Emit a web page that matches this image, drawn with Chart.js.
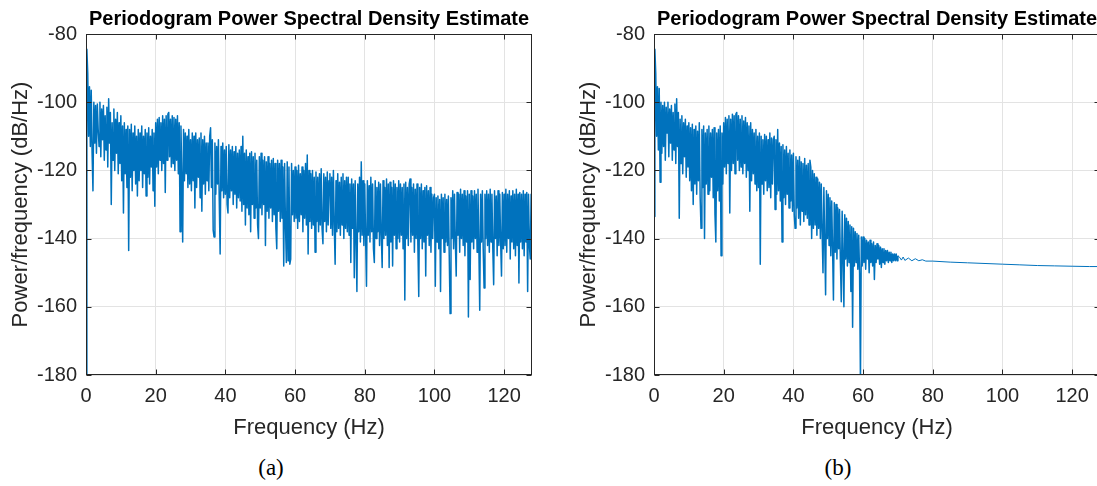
<!DOCTYPE html>
<html lang="en">
<head>
<meta charset="UTF-8">
<title>Periodogram Power Spectral Density Estimate</title>
<script src="https://cdn.jsdelivr.net/npm/chart.js"></script>
<style>
  html, body { margin: 0; padding: 0; background: #fff; overflow: hidden; }
  body { width: 1097px; height: 486px; position: relative; }
  .panel { position: absolute; top: 0; width: 548px; height: 450px; }
  .caption { position: absolute; top: 455px; width: 60px; text-align: center;
             font-family: "Liberation Serif", serif; font-size: 23px; color: #000; }
</style>
</head>
<body>
<div class="panel" style="left:0"><canvas id="psdA" width="548" height="450"></canvas></div>
<div class="panel" style="left:568px"><canvas id="psdB" width="548" height="450"></canvas></div>
<div class="caption" style="left:241px">(a)</div>
<div class="caption" style="left:808px">(b)</div>

<script>
// frequency bins are 0.25 Hz apart
const binHz = 0.25;
const xTicks = [0, 20, 40, 60, 80, 100, 120];
const yTicks = [-180, -160, -140, -120, -100, -80];

// (a) raw signal, dB/Hz, 0 .. 128 Hz
const psdA = [
  -182, -84.5, -91.5, -110, -95.5, -113, -96.5, -115, -126, -100, -112, -101, -115, -100.5, -108, -113, -100, -116, -102, -111,
  -101, -117, -104, -114, -101.5, -119, -99, -112, -103, -130, -106, -117, -102, -120, -105, -115, -103, -121, -106, -118,
  -104, -123, -107, -132.5, -106, -121, -108, -125, -107, -143.5, -108, -122, -106.5, -126, -109, -120, -107, -124, -110, -127.5,
  -108, -123, -109, -120, -107, -125, -110, -121, -108, -127.5, -109, -122, -107.5, -124, -110, -119, -108, -126, -109, -130.5,
  -106, -119, -105, -121, -104.5, -117, -106, -120, -104, -118, -105, -126.5, -104, -117, -103.5, -103, -116, -105, -119, -104,
  -118, -104.5, -120, -105, -117, -104, -121, -106, -138, -107, -122, -141, -108, -123, -109, -121, -110, -125, -108, -124,
  -111, -126, -109, -123, -110, -131, -109, -125, -111, -122, -110.5, -128, -109, -132, -111, -124, -110, -127, -112, -123,
  -112, -126, -110, -107.5, -125, -111, -137.5, -139.5, -112, -127, -113, -124, -111, -129, -144.5, -113, -126, -112, -128, -114,
  -127, -113, -130, -132.5, -112.5, -128, -114, -126, -113, -130, -114.5, -127, -113, -131, -115, -128, -114, -129, -113, -132,
  -110, -130, -115, -136, -114, -131, -116, -133, -115, -138, -114.5, -130, -116, -134, -115, -131, -117, -136, -140, -116,
  -131, -115, -133, -117, -130, -116, -142, -117.5, -132, -116, -134, -118, -131, -117, -135, -116.5, -133, -118, -137, -143,
  -117, -132, -118, -135, -117, -134, -119, -148, -118, -136, -147, -117.5, -146.5, -119, -147.5, -146, -118, -133, -120, -135,
  -119, -134, -120, -137, -118.5, -135, -121, -133, -119, -138, -120, -134, -118, -136, -115.5, -144.5, -120, -135, -121, -137,
  -120, -136, -122, -144, -120.5, -135, -122, -138, -121, -136, -119.5, -137, -141.5, -121, -135, -122, -138, -120.5, -136, -123,
  -121, -137, -122, -139, -120, -136, -147.5, -123, -138, -121, -137, -123.5, -139, -122, -136, -121, -140, -123, -137, -122,
  -138, -122, -139, -124, -147, -122.5, -137, -124, -151.5, -123, -140, -155.5, -124, -138, -122, -141, -117.5, -139, -123, -142,
  -124, -140, -154, -123, -139, -124.5, -141, -122, -138, -124, -143, -147, -123, -140, -125, -138, -123.5, -142, -124, -139,
  -148.5, -123, -140, -125, -139, -122.5, -142, -124, -148.5, -123.5, -141, -125, -148, -123, -139, -124, -143, -125, -140, -123,
  -141, -124, -139, -125, -143, -124, -158, -123.5, -140, -125, -142, -124, -122.5, -141, -125, -139, -124, -144, -125.5, -140,
  -124, -142, -157, -125, -140, -124, -143, -126, -141, -125, -151, -124.5, -139, -126, -142, -125, -144, -127, -140, -128,
  -127, -154, -128, -141, -127.5, -143, -128.5, -155.5, -127, -140, -128, -144, -127, -141, -128.5, -142, -127.5, -145, -162, -128,
  -140, -126, -143, -127, -141, -151, -126.5, -139, -127, -144, -125.5, -140, -127, -142, -126, -145, -127.5, -141, -126, -163,
  -127, -152, -126, -141, -127.5, -143, -126, -140, -127, -144, -125.5, -142, -161, -127, -141, -126, -143, -154.5, -127, -140,
  -126, -142, -127, -144, -125.5, -141, -127, -143, -153.5, -126, -140, -127.5, -145, -126, -142, -127, -141, -151, -126.5, -143,
  -127, -142, -125.5, -144, -127, -140, -126, -146, -127.5, -141, -126, -143, -127, -145, -125.5, -142, -127, -153, -126.5, -141,
  -127, -143, -126, -145, -127, -141, -126.5, -155.5, -127, -142, -146, -127, -136
];

// (b) filtered signal, dB/Hz, noisy part 0 .. 70 Hz
const psdB = [
  -133.5, -84.5, -91.5, -110, -95.5, -114, -96, -123.5, -100, -115, -101, -113, -100, -117, -101.5, -109, -100, -116, -102, -112,
  -101, -117, -103, -114, -100.5, -118, -99, -113, -103, -134, -105, -118, -104, -121, -106, -116, -105, -122, -107, -119,
  -106, -123, -107.5, -126, -106.5, -130, -108, -124, -107, -127, -108.5, -123, -106, -128, -137, -108, -125, -107, -140, -109,
  -124, -108, -127, -107, -126, -109, -122, -108, -128, -107.5, -133, -141, -109, -126, -108, -129, -107, -145, -109, -124,
  -106, -119, -104.5, -121, -105, -118, -104, -132.5, -105, -120, -103.5, -118, -104, -121, -103.5, -103, -117, -104, -120, -105,
  -119, -104, -121, -105.5, -118, -104.5, -122, -106, -120, -107, -132, -106, -123, -108, -121, -109, -124, -108, -126, -110,
  -125, -109, -147.5, -110, -124, -111, -127, -109.5, -123, -110, -126, -111, -125, -109, -128, -110.5, -124, -111, -110, -131.5,
  -111, -127, -108, -126, -112, -129, -113, -141, -112.5, -128, -114, -130, -113, -127, -115, -131, -114, -129, -115.5, -132,
  -115, -133, -137, -116, -131, -117, -134, -116, -136, -117.5, -132, -118, -135, -116.5, -133, -118.5, -134, -118, -136, -117,
  -119, -140, -120, -137, -121, -136, -122, -139, -122.5, -137, -123.5, -140, -124, -138, -150, -125, -141, -156.5, -126, -140,
  -127, -142, -128, -145, -129, -143, -158, -129.5, -144, -130, -146, -131, -143, -131.5, -147, -158.5, -132, -145, -160, -133,
  -146, -134, -148, -135, -147, -136, -155.5, -136.5, -166, -137, -148, -138, -147, -138.5, -149, -139, -150, -182, -139.5, -148,
  -139.5, -147, -140, -149, -140.5, -146, -141, -150, -140.5, -147, -141.5, -148, -141, -152, -142, -147, -141.5, -146, -142, -147.5,
  -142.5, -148.5, -143, -147, -143, -147.5, -143.5, -146.5, -143.5, -147, -144, -146.5, -144, -147, -144.5, -146.5, -144.5, -146.5, -144.5, -146.5,
  -145
];
// (b) smooth stopband tail
const tailHz = [70.5, 71, 71.5, 72, 73, 74, 75, 76, 77, 78, 80, 85, 90, 95, 100, 105, 110, 115, 120, 125, 128];
const tailDb = [-145.5, -146.3, -145.4, -146.4, -145.7, -146.5, -145.9, -146.5, -146.2, -146.6, -146.6, -146.9, -147.1, -147.3, -147.5, -147.7, -147.9, -148.0, -148.1, -148.2, -148.2];

const blue = '#0072BD';
const ink = '#262626';
const sans = 'Liberation Sans';

// axes box with inward ticks, drawn over the trace like MATLAB
const boxPlugin = {
  id: 'matlabBox',
  afterDatasetsDraw(chart) {
    const { ctx, chartArea: a, scales: { x, y } } = chart;
    const l = Math.round(a.left) + 0.5, r = Math.round(a.right) - 0.5;
    const t = Math.round(a.top) + 0.5, b = Math.round(a.bottom) - 0.5;
    ctx.save();
    ctx.strokeStyle = ink;
    ctx.lineWidth = 1;
    ctx.strokeRect(l, t, r - l, b - t);
    ctx.beginPath();
    x.ticks.forEach(tk => {
      const px = Math.round(x.getPixelForValue(tk.value)) + 0.5;
      ctx.moveTo(px, b); ctx.lineTo(px, b - 5);
      ctx.moveTo(px, t); ctx.lineTo(px, t + 5);
    });
    y.ticks.forEach(tk => {
      const py = Math.round(y.getPixelForValue(tk.value)) + 0.5;
      ctx.moveTo(l, py); ctx.lineTo(l + 5, py);
      ctx.moveTo(r, py); ctx.lineTo(r - 5, py);
    });
    ctx.stroke();
    ctx.restore();
  }
};

// thinSince: frequency after which the trace is smooth and drawn thinner
function makePsd(id, points, thinSince) {
  return new Chart(document.getElementById(id), {
    type: 'line',
    data: {
      datasets: [{
        data: points,
        borderColor: blue,
        borderWidth: 1.5,
        borderJoinStyle: 'round',
        pointRadius: 0,
        tension: 0,
        fill: false,
        segment: {
          borderWidth: c => (c.p0.parsed.x >= thinSince ? 1 : undefined)
        }
      }]
    },
    options: {
      responsive: false,
      animation: false,
      events: [],
      layout: { padding: { left: 0, right: 16, top: 0, bottom: 0 } },
      plugins: {
        legend: { display: false },
        tooltip: { enabled: false },
        title: {
          display: true,
          fullSize: false,
          text: 'Periodogram Power Spectral Density Estimate',
          color: '#000',
          font: { family: sans, size: 20, weight: 'bold', lineHeight: 1.2 },
          padding: { top: 7, bottom: 3 }
        }
      },
      scales: {
        x: {
          type: 'linear',
          min: 0,
          max: 128,
          afterBuildTicks: s => { s.ticks = xTicks.map(v => ({ value: v })); },
          afterFit: s => { s.height = 75; },
          grid: { color: '#e3e3e3', drawTicks: false },
          border: { display: false },
          ticks: { color: ink, font: { family: sans, size: 20 }, padding: 9, maxRotation: 0, autoSkip: false },
          title: { display: true, text: 'Frequency (Hz)', color: ink,
                   font: { family: sans, size: 22, lineHeight: 1.2 }, padding: { top: 0, bottom: 9 } }
        },
        y: {
          type: 'linear',
          min: -180,
          max: -80,
          afterBuildTicks: s => { s.ticks = yTicks.map(v => ({ value: v })); },
          afterFit: s => { s.width = 86; },
          grid: { color: '#e3e3e3', drawTicks: false },
          border: { display: false },
          ticks: { color: ink, font: { family: sans, size: 20 }, padding: 9 },
          title: { display: true, text: 'Power/frequency (dB/Hz)', color: ink,
                   font: { family: sans, size: 22, lineHeight: 1.2 }, padding: { top: 8, bottom: 0 } }
        }
      }
    },
    plugins: [boxPlugin]
  });
}

const ptsA = psdA.map((v, i) => ({ x: i * binHz, y: v }));
const ptsB = psdB.map((v, i) => ({ x: i * binHz, y: v }))
  .concat(tailHz.map((f, i) => ({ x: f, y: tailDb[i] })));

makePsd('psdA', ptsA, Infinity);
makePsd('psdB', ptsB, 70);
</script>
</body>
</html>
